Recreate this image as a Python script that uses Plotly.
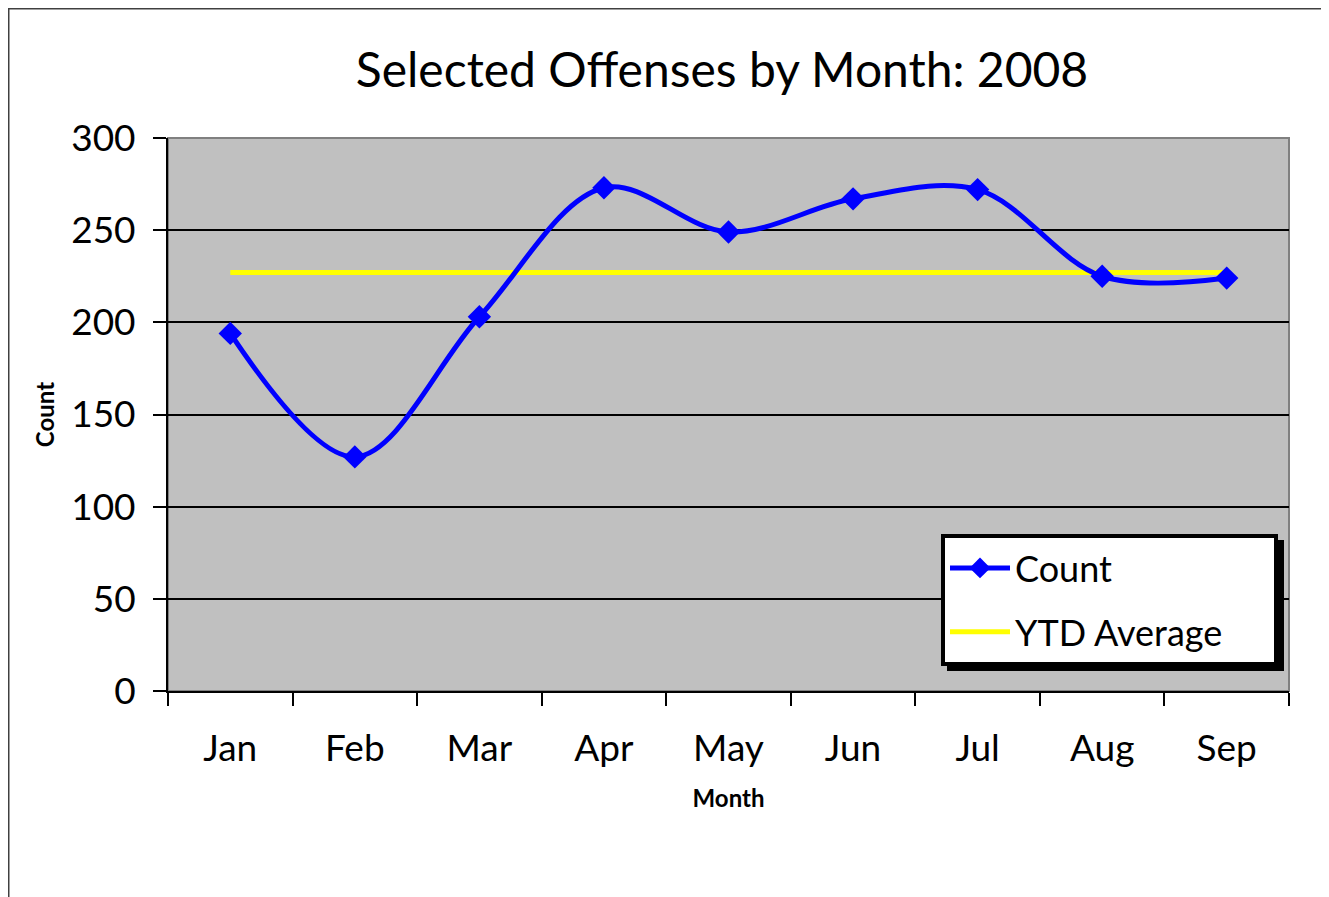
import plotly.graph_objects as go

months = ["Jan", "Feb", "Mar", "Apr", "May", "Jun", "Jul", "Aug", "Sep"]
count = [194, 127, 203, 273, 249, 267, 272, 225, 224]
ytd_average = [227, 227, 227, 227, 227, 227, 227, 227, 227]

OFF = 8  # default page body margin
W, H = 1329 - OFF, 897 - OFF
# plot area in reference page pixels
L, R, T, B = 168, 1289, 138, 691
l, r, t, b = L - OFF, R - OFF, T - OFF, B - OFF


def px(x):
    return (x - L) / (R - L)


def py(y):
    return (B - y) / (B - T)


FONT = "Lato"

fig = go.Figure()
fig.add_trace(go.Scatter(
    x=months, y=ytd_average, name="YTD Average" + "\u00a0" * 5, mode="lines",
    line=dict(color="#FFFF00", width=5), legendgroup="b", legendrank=2,
))
fig.add_trace(go.Scatter(
    x=months, y=count, name="Count", mode="lines+markers",
    line=dict(color="#0000FF", width=5, shape="spline", smoothing=1),
    marker=dict(symbol="diamond", size=18, color="#0000FF"), legendgroup="a", legendrank=1,
))

shapes = [
    # outer chart frame
    dict(type="line", xref="paper", yref="paper", x0=px(OFF + 0.75), x1=px(OFF + 0.75),
         y0=py(OFF + 0.75), y1=py(905), line=dict(color="#404040", width=1.5)),
    dict(type="line", xref="paper", yref="paper", x0=px(OFF), x1=px(1322),
         y0=py(OFF + 0.75), y1=py(OFF + 0.75), line=dict(color="#404040", width=1.5)),
    # plot area border (gray)
    dict(type="rect", xref="paper", yref="paper", x0=0, x1=1, y0=0, y1=1,
         line=dict(color="#808080", width=2), layer="below"),
    # legend shadow
    dict(type="rect", xref="paper", yref="paper", x0=px(947), x1=px(1284), y0=py(540), y1=py(671),
         fillcolor="black", line=dict(width=0), layer="above"),
]

fig.update_layout(
    width=W, height=H,
    margin=dict(l=l, r=W - r, t=t, b=H - b),
    paper_bgcolor="white",
    plot_bgcolor="#C0C0C0",
    font=dict(family=FONT, color="black"),
    title=dict(text="Selected Offenses by Month: 2008", x=(722 - OFF) / W, xanchor="center",
               y=1 - (70 - OFF) / H, yanchor="middle", font=dict(size=48, family=FONT)),
    showlegend=True,
    legend=dict(
        x=px(941), y=py(534), xanchor="left", yanchor="top",
        bgcolor="white", bordercolor="black", borderwidth=4,
        font=dict(size=36, family=FONT), traceorder="grouped",
        itemwidth=60, tracegroupgap=14,
    ),
    shapes=shapes,
    xaxis=dict(
        type="category", range=[-0.5, 8.5],
        showline=True, linecolor="black", linewidth=2,
        ticks="outside", tickson="boundaries", ticklen=13, tickcolor="black", tickwidth=2,
        showgrid=False, tickfont=dict(size=37, family=FONT),
        ticklabelstandoff=24,
        title=dict(text="<b>Month</b>", font=dict(size=24, family=FONT), standoff=22),
    ),
    yaxis=dict(
        range=[0, 300], tickvals=[0, 50, 100, 150, 200, 250, 300],
        showline=True, linecolor="black", linewidth=2,
        ticks="outside", ticklen=13, tickcolor="black", tickwidth=2,
        showgrid=True, gridcolor="black", gridwidth=1.5, zeroline=False,
        tickfont=dict(size=37, family=FONT), ticklabelstandoff=10,
        title=dict(text="<b>Count</b>", font=dict(size=24, family=FONT), standoff=10),
    ),
)

fig.write_html("out.html")
